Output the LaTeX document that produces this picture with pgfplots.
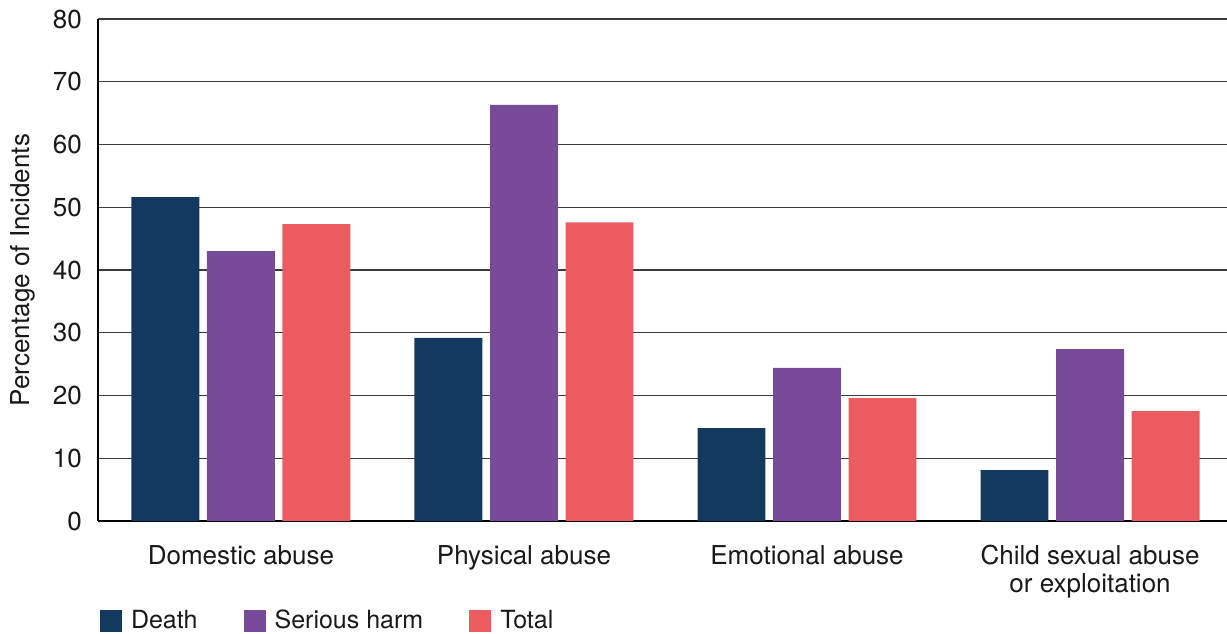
\documentclass[border=0pt]{standalone}
\usepackage{pgfplots}
\pgfplotsset{compat=1.18}
\usepackage{fontspec}
\setmainfont{TeX Gyre Heros}

\definecolor{death}{HTML}{133A5E}
\definecolor{harm}{HTML}{774B97}
\definecolor{total}{HTML}{EA5C5F}
\definecolor{gridgray}{HTML}{3A3A3A}

\pgfplotstableread{
x death harm total
0 51.6 43.0 47.3
1 29.2 66.3 47.6
2 14.8 24.4 19.6
3  8.1 27.4 17.5
}\incidents

\begin{document}
\fontsize{26}{28}\selectfont
\begin{tikzpicture}
\useasboundingbox (0,0) rectangle (1227pt,634pt);
\begin{axis}[
  at={(98pt,113pt)}, anchor=south west,
  scale only axis, width=1129pt, height=502pt,
  xmin=-0.505, xmax=3.484, ymin=0, ymax=80,
  ytick={0,10,...,80},
  xtick=data,
  xticklabels={Domestic abuse, Physical abuse, Emotional abuse, {Child sexual abuse\\or exploitation}},
  axis lines*=left,
  axis line style={black, line width=1.4pt, -},
  major tick length=0pt,
  ymajorgrids,
  grid style={gridgray, line width=1.2pt},
  /pgf/number format/assume math mode=true,
  tick label style={font=\fontsize{26}{28}\selectfont, text=black!90},
  yticklabel style={inner sep=0pt, xshift=-16pt},
  xticklabel style={inner sep=0pt, yshift=-24pt, align=center},
  every axis y label/.style={at={([xshift=-75pt]axis description cs:0,0.5)}, rotate=90, anchor=center},
  ylabel={Percentage of Incidents},
  label style={font=\fontsize{26}{28}\selectfont, text=black!90},
  ybar, bar width=0.24,
  legend columns=3,
  legend style={at={(axis description cs:0.0018,-0.200)}, anchor=west,
    draw=none, fill=none, inner sep=0pt, outer sep=0pt,
    font=\fontsize{25}{27}\selectfont,
    nodes={inner sep=0pt, text=black!90},
    /tikz/every odd column/.append style={column sep=9pt},
    /tikz/every even column/.append style={column sep=46pt}},
  legend image code/.code={\fill[#1] (0pt,-11pt) rectangle (22pt,11pt);},
]
\addplot[fill=death, draw=none, bar shift=-0.2668] table[x=x, y=death] {\incidents};
\addplot[fill=harm, draw=none, bar shift=0] table[x=x, y=harm] {\incidents};
\addplot[fill=total, draw=none, bar shift=0.2668] table[x=x, y=total] {\incidents};
\legend{Death, Serious harm, Total}
\end{axis}
\end{tikzpicture}
\end{document}
